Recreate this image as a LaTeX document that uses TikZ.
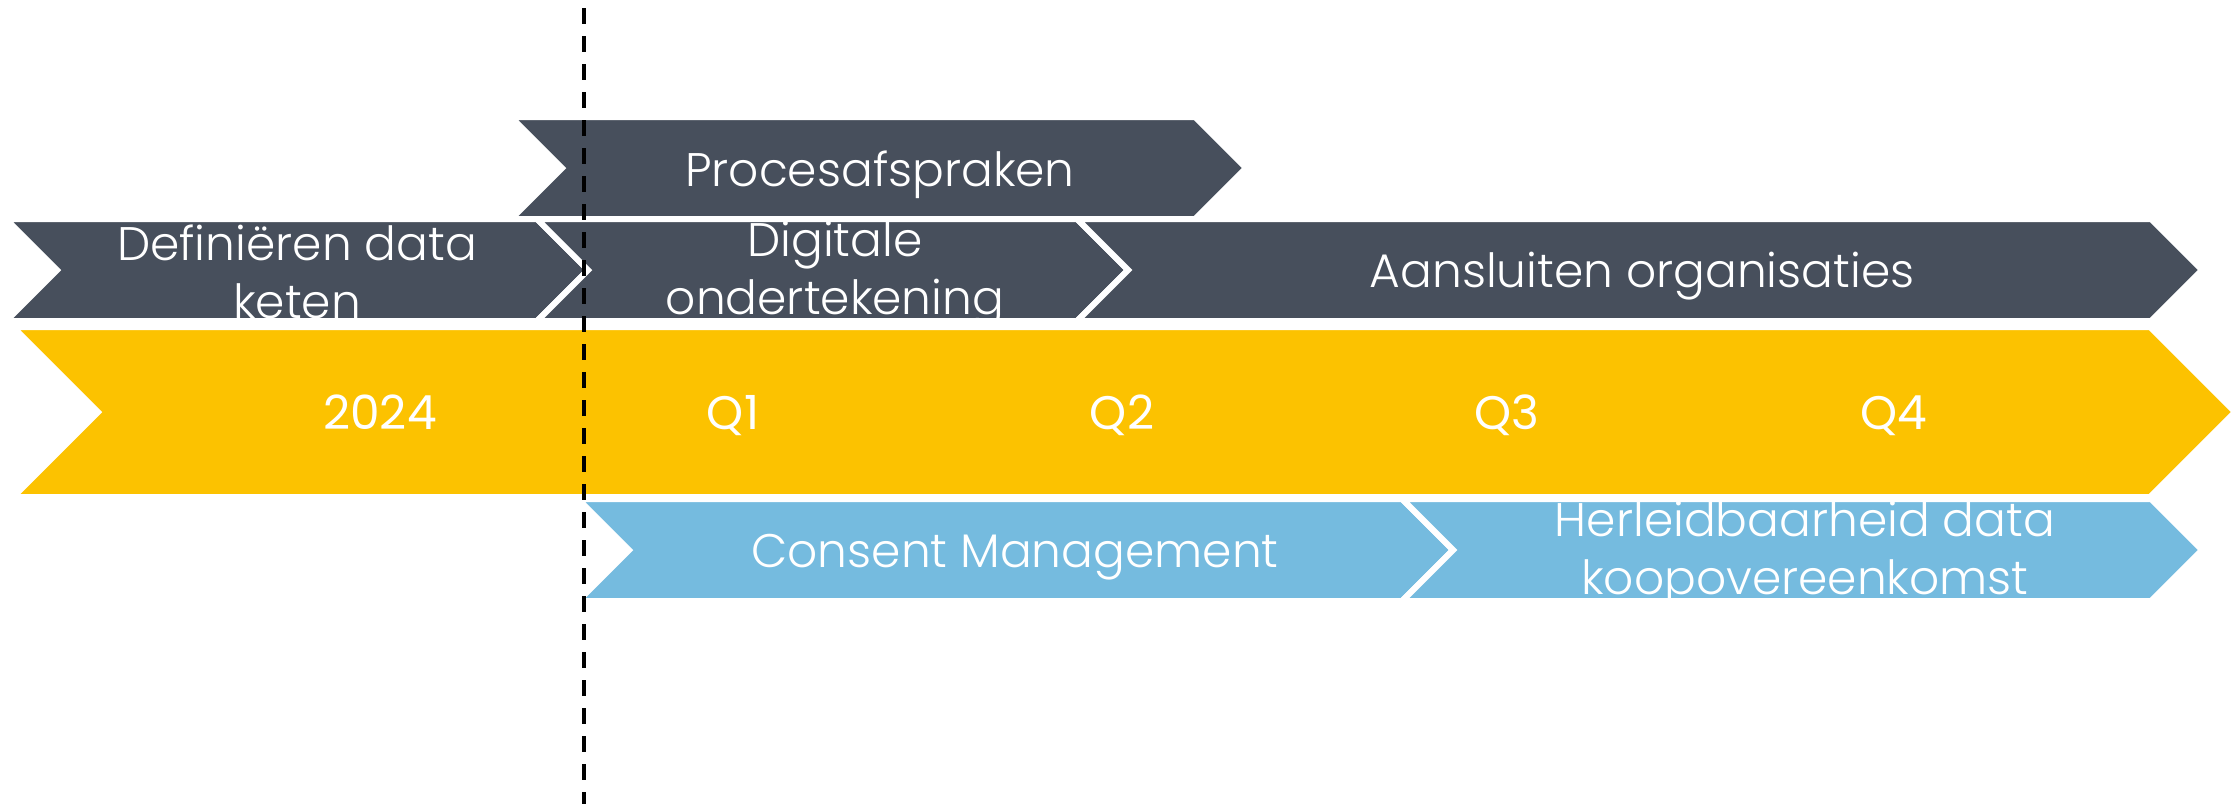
\documentclass[tikz,border=0pt]{standalone}
\usepackage{fontspec}
\setmainfont{Poppins}
\newfontfamily\lightfont{Poppins Light}
\definecolor{slate}{HTML}{474F5C}
\definecolor{gold}{HTML}{FCC200}
\definecolor{sky}{HTML}{75BBDF}
\begin{document}
\begin{tikzpicture}[
    x=0.1mm, y=-0.1mm,
    chev/.style={draw=white, line width=0.6mm, line join=miter},
    lbl/.style={text=white, inner sep=0pt, align=center,
        font=\lightfont\fontsize{13.4}{16.5}\selectfont},
    qlbl/.style={text=white, inner sep=0pt, anchor=base,
        font=\fontsize{13.4}{16}\selectfont},
    dashline/.style={black, line width=0.4mm, dash pattern=on 1.6mm off 1.2mm}
]
\useasboundingbox (0,0) rectangle (2233,804);

% Top row
\path[chev, fill=slate] (511,117) -- (1195,117) -- (1246,168) -- (1195,219) -- (511,219) -- (562,168) -- cycle;
\node[lbl, anchor=base] (proces) at (880,186) {Procesafspraken};

% Second row
\path[chev, fill=slate] (6,219) -- (537,219) -- (588,270) -- (537,321) -- (6,321) -- (57,270) -- cycle;
\node[lbl] (defin) at (297,272) {Definiëren data\\keten};

\path[chev, fill=slate] (537,219) -- (1077,219) -- (1128,270) -- (1077,321) -- (537,321) -- (588,270) -- cycle;
\begin{scope}
  \clip (537,222) -- (1077,222) -- (1128,270) -- (1077,318) -- (537,318) -- (588,270) -- cycle;
  \node[lbl] (digi) at (835,274) {Digitale\\ondertekening};
\end{scope}

\path[chev, fill=slate] (1077,219) -- (2151,219) -- (2202,270) -- (2151,321) -- (1077,321) -- (1128,270) -- cycle;
\node[lbl, anchor=base] (aansl) at (1642,287) {Aansluiten organisaties};

% Year bar
\path[chev, fill=gold] (13,327) -- (2150,327) -- (2235,412) -- (2150,497) -- (13,497) -- (98,412) -- cycle;
\node[qlbl] (year) at (380,429) {2024};
\node[qlbl] (q1) at (733,429) {Q1};
\node[qlbl] (q2) at (1122,429) {Q2};
\node[qlbl] (q3) at (1507,429) {Q3};
\node[qlbl] (q4) at (1894,429) {Q4};

% Bottom row
\path[chev, fill=sky] (578,499) -- (1402,499) -- (1453,550) -- (1402,601) -- (578,601) -- (629,550) -- cycle;
\node[lbl, anchor=base] (consent) at (1015,567) {Consent Management};

\path[chev, fill=sky] (1402,499) -- (2151,499) -- (2202,550) -- (2151,601) -- (1402,601) -- (1453,550) -- cycle;
\begin{scope}
  \clip (1402,502) -- (2151,502) -- (2202,550) -- (2151,598) -- (1402,598) -- (1453,550) -- cycle;
  \node[lbl] (herl) at (1805,554) {Herleidbaarheid data\\koopovereenkomst};
\end{scope}

% Today
\coordinate (nowtop) at (584,8);
\coordinate (nowbot) at (584,804);
\draw[dashline] (nowtop) -- (nowbot);

\end{tikzpicture}
\end{document}
